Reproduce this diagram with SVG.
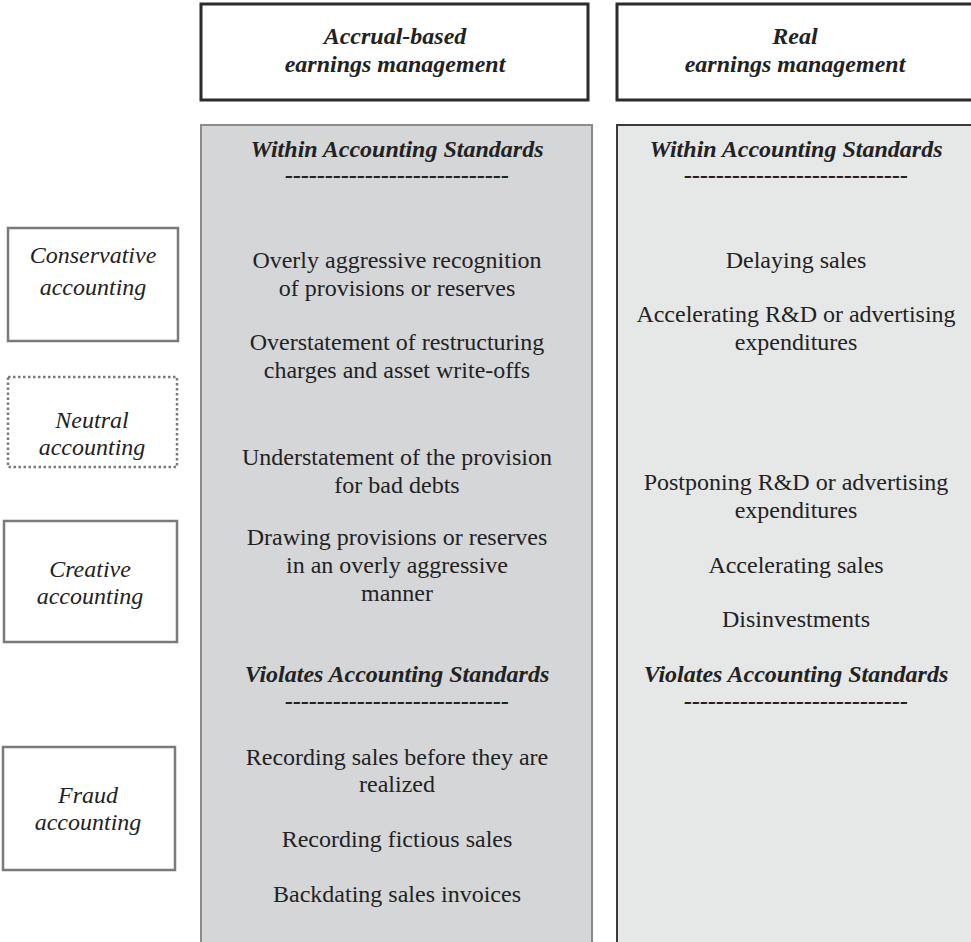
<svg xmlns="http://www.w3.org/2000/svg" width="971" height="942" viewBox="0 0 971 942">
<style>
text{font-family:"Liberation Serif","Times New Roman",serif;fill:#222;text-anchor:middle}
.h{font-size:24px;font-weight:bold;font-style:italic}
.b{font-size:24px}
.l{font-size:24px;font-style:italic}
.hdr{fill:#fff;stroke:#2b2b2b;stroke-width:3}
.lab{fill:#fff;stroke:#7a7a7a;stroke-width:2.5}
.dot{fill:#fff;stroke:#7a7a7a;stroke-width:2.5;stroke-dasharray:2.5 2.5}
</style>
<rect width="971" height="942" fill="#fff"/>
<g id="panel-accrual">
<rect x="201" y="125" width="391" height="830" fill="#d5d6d8" stroke="#8a8a8a" stroke-width="2"/>
<text class="h" x="397" y="157">Within Accounting Standards</text>
<text class="h" x="397" y="183">----------------------------</text>
<text class="b" x="397" y="268">Overly aggressive recognition</text>
<text class="b" x="397" y="296">of provisions or reserves</text>
<text class="b" x="397" y="350">Overstatement of restructuring</text>
<text class="b" x="397" y="378">charges and asset write-offs</text>
<text class="b" x="397" y="465">Understatement of the provision</text>
<text class="b" x="397" y="493">for bad debts</text>
<text class="b" x="397" y="545">Drawing provisions or reserves</text>
<text class="b" x="397" y="573">in an overly aggressive</text>
<text class="b" x="397" y="601">manner</text>
<text class="h" x="397" y="682">Violates Accounting Standards</text>
<text class="h" x="397" y="709">----------------------------</text>
<text class="b" x="397" y="765">Recording sales before they are</text>
<text class="b" x="397" y="792">realized</text>
<text class="b" x="397" y="847">Recording fictious sales</text>
<text class="b" x="397" y="902">Backdating sales invoices</text>
</g>
<g id="panel-real">
<rect x="617" y="125" width="370" height="830" fill="#e6e7e7" stroke="#3a3a3a" stroke-width="2"/>
<text class="h" x="796" y="157">Within Accounting Standards</text>
<text class="h" x="796" y="183">----------------------------</text>
<text class="b" x="796" y="268">Delaying sales</text>
<text class="b" x="796" y="322">Accelerating R&amp;D or advertising</text>
<text class="b" x="796" y="350">expenditures</text>
<text class="b" x="796" y="490">Postponing R&amp;D or advertising</text>
<text class="b" x="796" y="518">expenditures</text>
<text class="b" x="796" y="573">Accelerating sales</text>
<text class="b" x="796" y="627">Disinvestments</text>
<text class="h" x="796" y="682">Violates Accounting Standards</text>
<text class="h" x="796" y="709">----------------------------</text>
</g>
<g id="header-accrual">
<rect class="hdr" x="201" y="4" width="387" height="96"/>
<text class="h" x="395" y="44">Accrual-based</text>
<text class="h" x="395" y="72">earnings management</text>
</g>
<g id="header-real">
<rect class="hdr" x="617" y="4" width="370" height="96"/>
<text class="h" x="795" y="44">Real</text>
<text class="h" x="795" y="72">earnings management</text>
</g>
<g id="conservative">
<rect class="lab" x="8" y="228" width="170" height="113"/>
<text class="l" x="93" y="263">Conservative</text>
<text class="l" x="93" y="295">accounting</text>
</g>
<g id="neutral">
<rect class="dot" x="8" y="377" width="169" height="90"/>
<text class="l" x="92" y="428">Neutral</text>
<text class="l" x="92" y="455">accounting</text>
</g>
<g id="creative">
<rect class="lab" x="4" y="521" width="173" height="121"/>
<text class="l" x="90" y="577">Creative</text>
<text class="l" x="90" y="604">accounting</text>
</g>
<g id="fraud">
<rect class="lab" x="3" y="747" width="172" height="123"/>
<text class="l" x="88" y="803">Fraud</text>
<text class="l" x="88" y="830">accounting</text>
</g>
</svg>
